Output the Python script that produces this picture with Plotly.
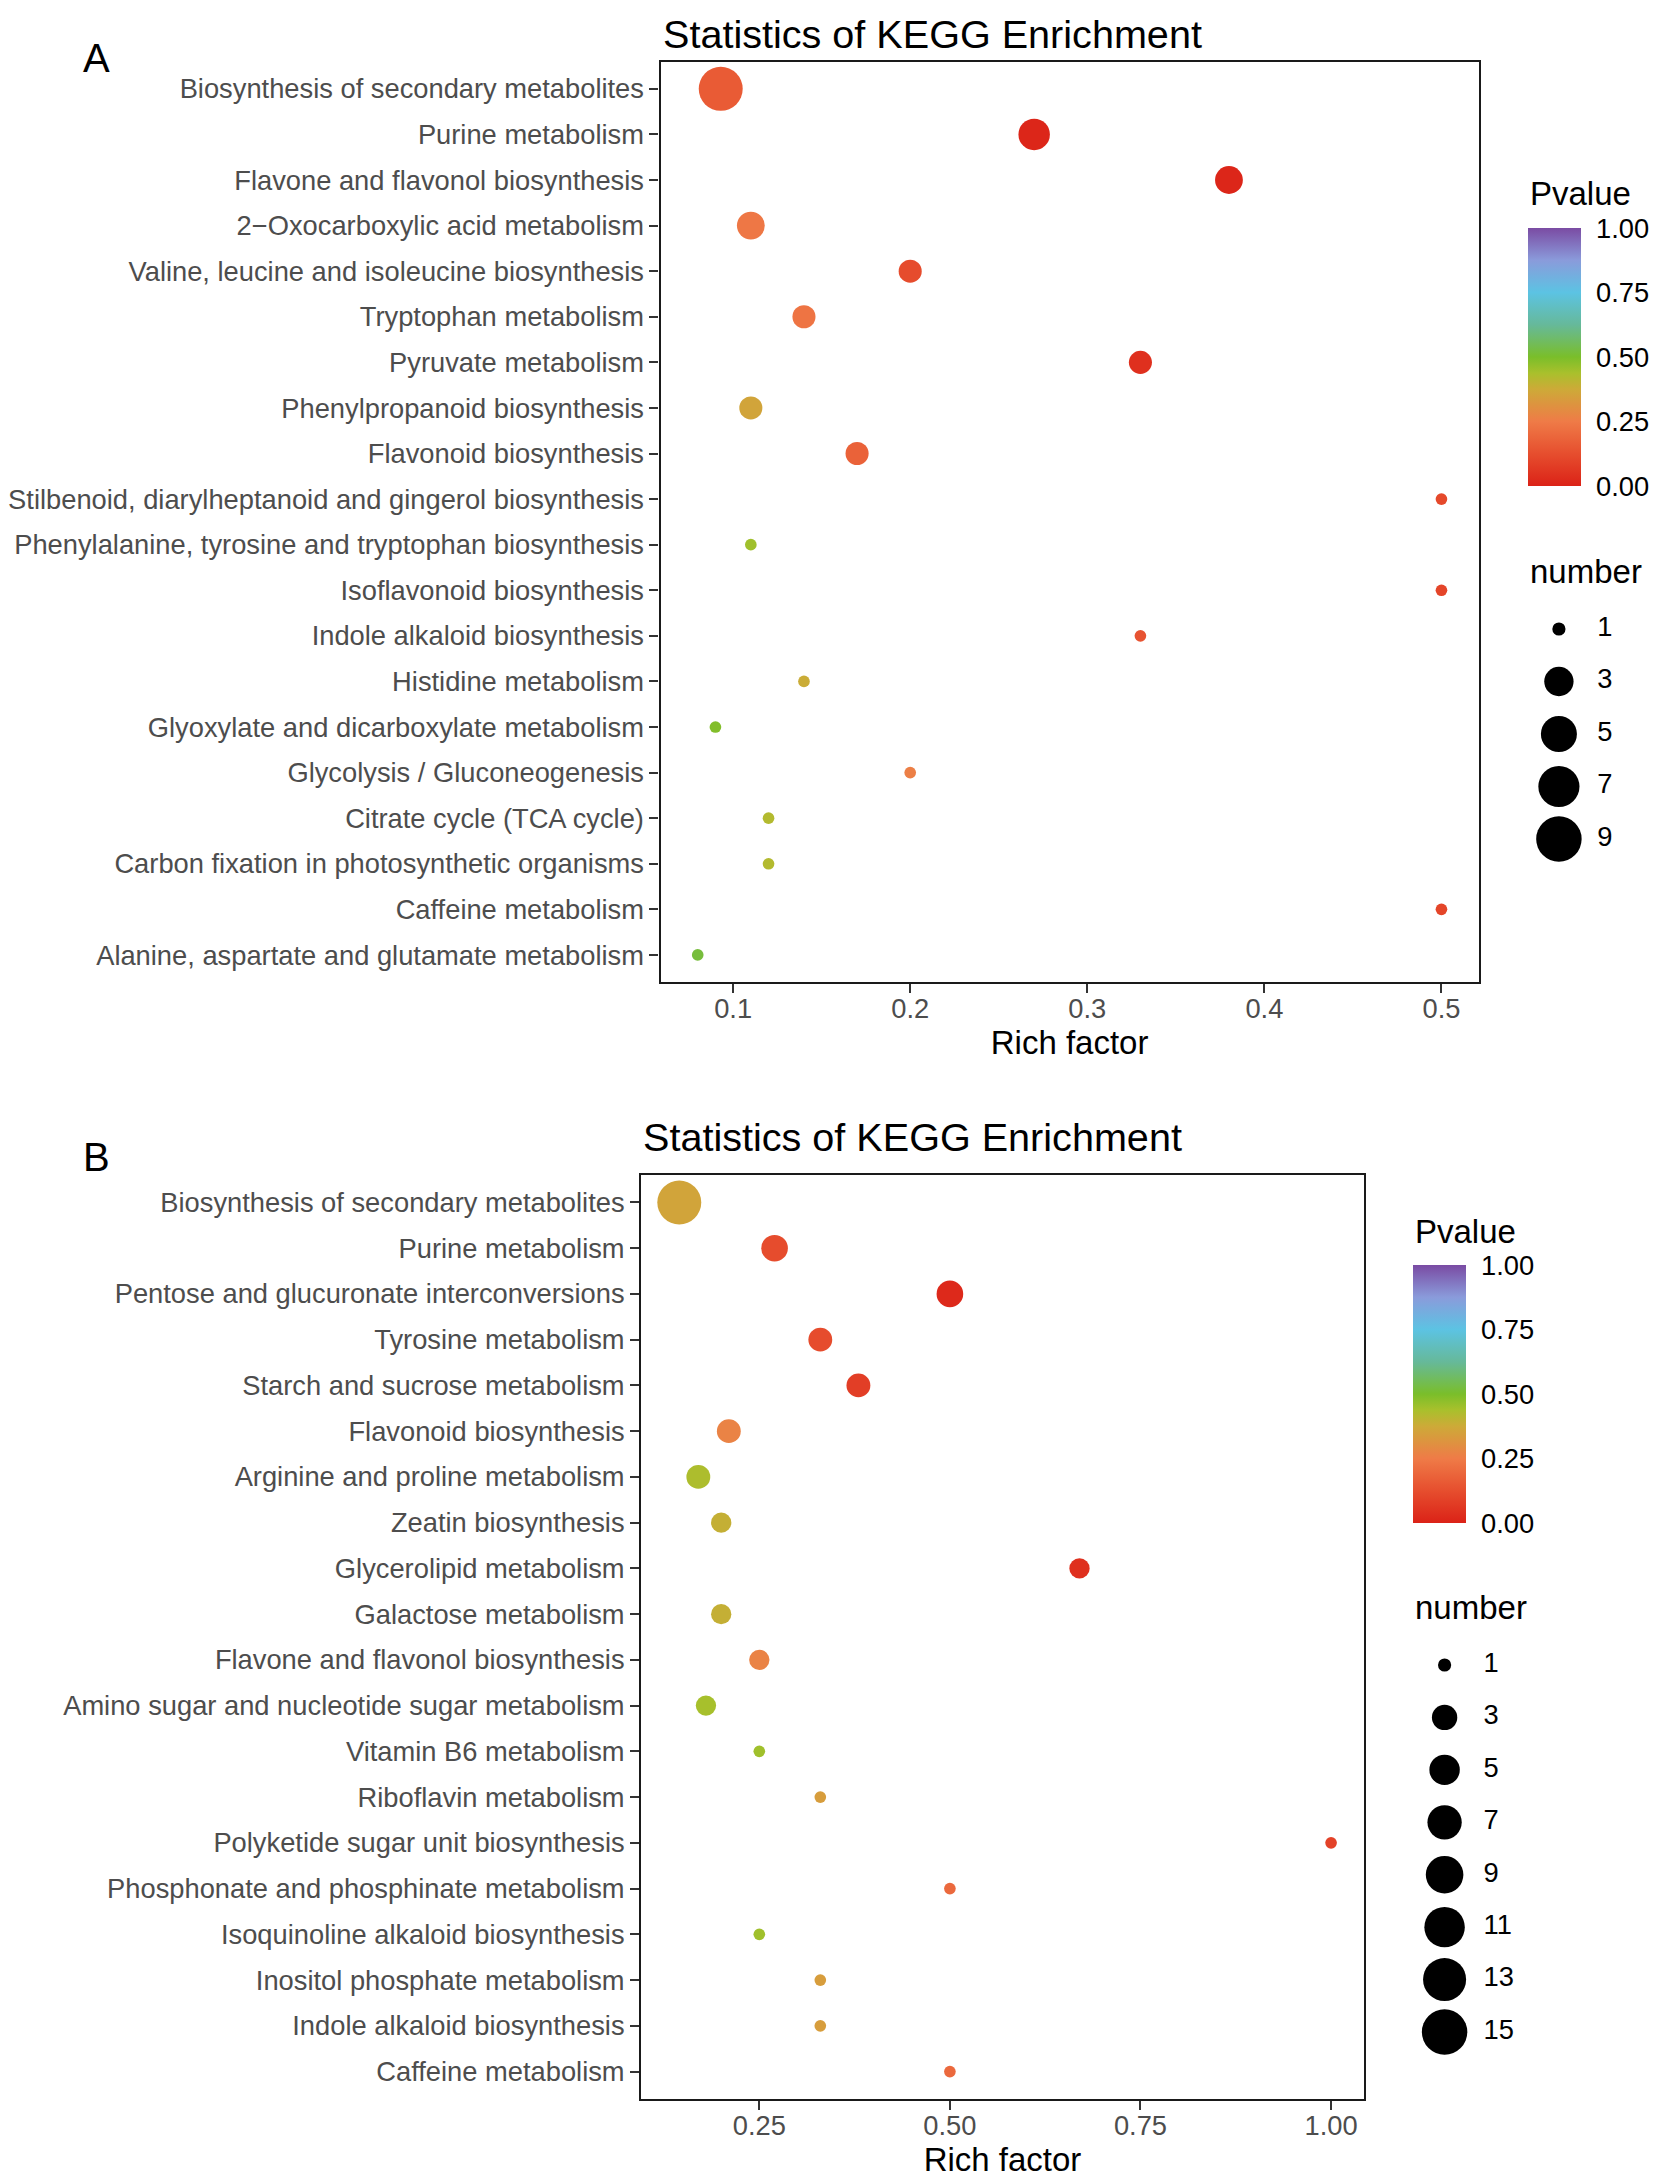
import numpy as np
import plotly.graph_objects as go

W, H = 1657, 2178
OFF = 8  # page body margin of the written html
FONT = "Liberation Sans, Arial, sans-serif"

# ---- panel A data ----
a_terms = [
    "Biosynthesis of secondary metabolites",
    "Purine metabolism",
    "Flavone and flavonol biosynthesis",
    "2\u2212Oxocarboxylic acid metabolism",
    "Valine, leucine and isoleucine biosynthesis",
    "Tryptophan metabolism",
    "Pyruvate metabolism",
    "Phenylpropanoid biosynthesis",
    "Flavonoid biosynthesis",
    "Stilbenoid, diarylheptanoid and gingerol biosynthesis",
    "Phenylalanine, tyrosine and tryptophan biosynthesis",
    "Isoflavonoid biosynthesis",
    "Indole alkaloid biosynthesis",
    "Histidine metabolism",
    "Glyoxylate and dicarboxylate metabolism",
    "Glycolysis / Gluconeogenesis",
    "Citrate cycle (TCA cycle)",
    "Carbon fixation in photosynthetic organisms",
    "Caffeine metabolism",
    "Alanine, aspartate and glutamate metabolism",
]
a_rich = [0.093, 0.27, 0.38, 0.11, 0.20, 0.14, 0.33, 0.11, 0.17, 0.50,
          0.11, 0.50, 0.33, 0.14, 0.09, 0.20, 0.12, 0.12, 0.50, 0.08]
a_number = [9, 4, 3, 3, 2, 2, 2, 2, 2, 1, 1, 1, 1, 1, 1, 1, 1, 1, 1, 1]
a_pvalue = [0.16, 0.01, 0.01, 0.24, 0.12, 0.23, 0.04, 0.36, 0.18, 0.11,
            0.45, 0.10, 0.14, 0.38, 0.49, 0.26, 0.42, 0.42, 0.10, 0.52]
a_breaks = [1, 3, 5, 7, 9]
a_xticks = [0.1, 0.2, 0.3, 0.4, 0.5]

# ---- panel B data ----
b_terms = [
    "Biosynthesis of secondary metabolites",
    "Purine metabolism",
    "Pentose and glucuronate interconversions",
    "Tyrosine metabolism",
    "Starch and sucrose metabolism",
    "Flavonoid biosynthesis",
    "Arginine and proline metabolism",
    "Zeatin biosynthesis",
    "Glycerolipid metabolism",
    "Galactose metabolism",
    "Flavone and flavonol biosynthesis",
    "Amino sugar and nucleotide sugar metabolism",
    "Vitamin B6 metabolism",
    "Riboflavin metabolism",
    "Polyketide sugar unit biosynthesis",
    "Phosphonate and phosphinate metabolism",
    "Isoquinoline alkaloid biosynthesis",
    "Inositol phosphate metabolism",
    "Indole alkaloid biosynthesis",
    "Caffeine metabolism",
]
b_rich = [0.145, 0.27, 0.50, 0.33, 0.38, 0.21, 0.17, 0.20, 0.67, 0.20,
          0.25, 0.18, 0.25, 0.33, 1.00, 0.50, 0.25, 0.33, 0.33, 0.50]
b_number = [15, 4, 4, 3, 3, 3, 3, 2, 2, 2, 2, 2, 1, 1, 1, 1, 1, 1, 1, 1]
b_pvalue = [0.36, 0.12, 0.02, 0.12, 0.08, 0.27, 0.43, 0.39, 0.04, 0.39,
            0.27, 0.44, 0.45, 0.34, 0.09, 0.20, 0.45, 0.34, 0.34, 0.20]
b_breaks = [1, 3, 5, 7, 9, 11, 13, 15]
b_xticks = [0.25, 0.50, 0.75, 1.00]

pval_ticks = [0, 0.25, 0.5, 0.75, 1.0]

PVAL_SCALE = [[0, "#DB2217"], [0.125, "#E64E2E"], [0.25, "#EF7B47"],
              [0.375, "#CDAA38"], [0.4375, "#A9C02C"], [0.5, "#7ABE2A"],
              [0.625, "#66B99A"], [0.75, "#5CC3E3"], [0.875, "#8A9BDB"],
              [1, "#7A4BA3"]]

TICK_SIZE = 27.3
TITLE_SIZE = 33


def dot_size(n, nmax):
    # ggplot area scale (1..6 mm) turned into px diameter
    s = 1 + 5 * np.sqrt((np.asarray(n, dtype=float) - 1) / (nmax - 1))
    return 6.46 * s + 5.2


def px_x(v):
    return (v - OFF) / W


def px_y(v):
    return 1 - (v - OFF) / H


# panel boxes in px (left, right, top, bottom)
A_BOX = (658.7, 1478.3, 61.5, 982.3)
B_BOX = (639.3, 1363.3, 1175.0, 2099.0)

fig = go.Figure()

fig.add_trace(go.Scatter(
    x=a_rich, y=a_terms, mode="markers", xaxis="x", yaxis="y",
    marker=dict(size=dot_size(a_number, max(a_breaks)), color=a_pvalue,
                coloraxis="coloraxis", line=dict(width=0), opacity=1),
    showlegend=False))
fig.add_trace(go.Scatter(
    x=b_rich, y=b_terms, mode="markers", xaxis="x2", yaxis="y2",
    marker=dict(size=dot_size(b_number, max(b_breaks)), color=b_pvalue,
                coloraxis="coloraxis2", line=dict(width=0), opacity=1),
    showlegend=False))

# size legends drawn on hidden axes
for brks, xa, ya in [(a_breaks, "x3", "y3"), (b_breaks, "x4", "y4")]:
    labels = [str(b) for b in brks]
    fig.add_trace(go.Scatter(
        x=[0] * len(brks), y=labels, mode="markers", xaxis=xa, yaxis=ya,
        marker=dict(size=dot_size(brks, max(brks)) + 1.5, color="black",
                    line=dict(width=0), opacity=1),
        showlegend=False, hoverinfo="skip"))
    fig.add_trace(go.Scatter(
        x=[1.25] * len(brks), y=labels, mode="text", text=labels,
        textposition="middle right", xaxis=xa, yaxis=ya,
        textfont=dict(size=TICK_SIZE, color="black", family=FONT),
        showlegend=False, hoverinfo="skip"))

axis_common = dict(showline=True, mirror=True, linecolor="#1A1A1A", linewidth=2.2,
                   ticks="outside", ticklen=9, tickwidth=2.4, tickcolor="#333333",
                   tickfont=dict(size=TICK_SIZE, color="#4D4D4D", family=FONT),
                   showgrid=False, zeroline=False)


def bar(x_left, y_mid):
    return dict(x=px_x(x_left), xanchor="left", y=px_y(y_mid), yanchor="middle",
                len=258, lenmode="pixels", thickness=53, thicknessmode="pixels",
                outlinewidth=0, xpad=0, ypad=0,
                tickvals=pval_ticks, ticktext=[f"{t:.2f}" for t in pval_ticks],
                ticks="outside", ticklen=10, tickcolor="white", tickwidth=1,
                tickfont=dict(size=TICK_SIZE, color="black", family=FONT))


fig.update_layout(
    width=W, height=H, margin=dict(l=0, r=0, t=0, b=0),
    paper_bgcolor="white", plot_bgcolor="white",
    font=dict(family=FONT, color="black"),
    xaxis=dict(domain=[px_x(A_BOX[0]), px_x(A_BOX[1])], anchor="y",
               range=[0.059, 0.521], tickvals=a_xticks,
               ticktext=[f"{t:.1f}" for t in a_xticks], ticklabelstandoff=-8,
               title=dict(text="Rich factor", font=dict(size=TITLE_SIZE, color="black"), standoff=8),
               **axis_common),
    yaxis=dict(domain=[px_y(A_BOX[3]), px_y(A_BOX[2])], anchor="x",
               type="category", categoryorder="array", categoryarray=a_terms,
               range=[len(a_terms) - 0.4, -0.6], **axis_common),
    xaxis2=dict(domain=[px_x(B_BOX[0]), px_x(B_BOX[1])], anchor="y2",
                range=[0.095, 1.043], tickvals=b_xticks,
                ticktext=[f"{t:.2f}" for t in b_xticks], ticklabelstandoff=-8,
                title=dict(text="Rich factor", font=dict(size=TITLE_SIZE, color="black"), standoff=8),
                **axis_common),
    yaxis2=dict(domain=[px_y(B_BOX[3]), px_y(B_BOX[2])], anchor="x2",
                type="category", categoryorder="array", categoryarray=b_terms,
                range=[len(b_terms) - 0.4, -0.6], **axis_common),
    xaxis3=dict(domain=[px_x(1528), px_x(1657)], anchor="y3", range=[-1, 3.2], visible=False),
    yaxis3=dict(domain=[px_y(865.25), px_y(602.75)], anchor="x3", type="category",
                range=[len(a_breaks) - 0.5, -0.5], visible=False),
    xaxis4=dict(domain=[px_x(1413), px_x(1544)], anchor="y4", range=[-1, 3.2], visible=False),
    yaxis4=dict(domain=[px_y(2058.2), px_y(1638.8)], anchor="x4", type="category",
                range=[len(b_breaks) - 0.5, -0.5], visible=False),
    coloraxis=dict(cmin=0, cmax=1, colorscale=PVAL_SCALE, colorbar=bar(1528, 357)),
    coloraxis2=dict(cmin=0, cmax=1, colorscale=PVAL_SCALE, colorbar=bar(1413, 1394)),
)

notes = [
    ("Statistics of KEGG Enrichment", A_BOX[0], 34, 39.6, "left"),
    ("Statistics of KEGG Enrichment", B_BOX[0], 1137, 39.6, "left"),
    ("A", 94, 58, 40, "center"),
    ("B", 94, 1157, 40, "center"),
    ("Pvalue", 1528, 194, TITLE_SIZE, "left"),
    ("number", 1528, 571, TITLE_SIZE, "left"),
    ("Pvalue", 1413, 1231, TITLE_SIZE, "left"),
    ("number", 1413, 1607, TITLE_SIZE, "left"),
]
for text, x, y, size, anchor in notes:
    fig.add_annotation(text=text, x=px_x(x), y=px_y(y), xref="paper", yref="paper",
                       xanchor=anchor, yanchor="middle", showarrow=False,
                       font=dict(size=size, color="black", family=FONT))

fig.write_html("out.html")
